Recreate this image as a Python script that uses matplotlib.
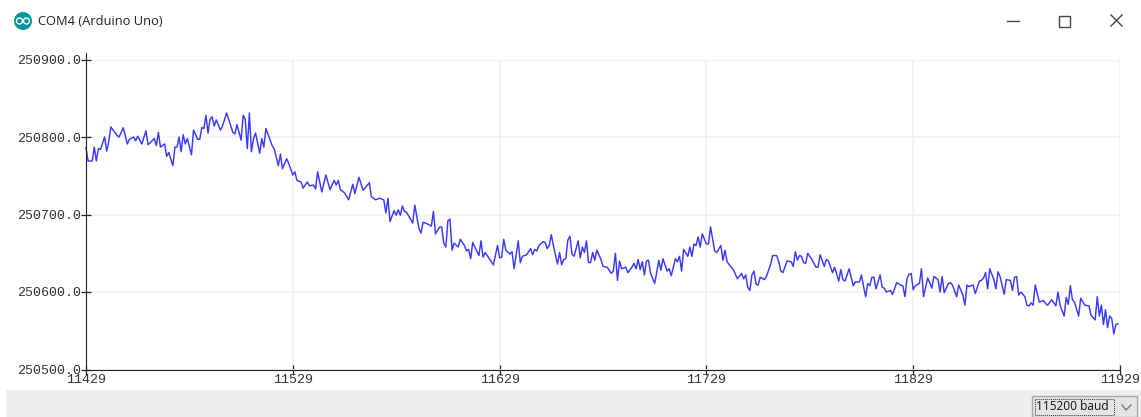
import matplotlib
matplotlib.use("Agg")
import matplotlib.pyplot as plt
from matplotlib.patches import Circle, Rectangle

# Data
start_sample = 11429
sample_offset = [
    0, 1, 3, 4, 5, 6, 7, 9, 10, 11, 12, 15, 16, 18, 20, 21, 23, 24, 25, 27, 29, 30, 33, 34, 35, 36,
    38, 39, 40, 42, 43, 44, 45, 46, 47, 48, 49, 51, 52, 54, 55, 56, 57, 58, 59, 60, 61, 62, 63, 65,
    66, 68, 71, 72, 73, 75, 76, 77, 78, 79, 80, 81, 82, 84, 85, 86, 87, 90, 91, 93, 94, 95, 97, 98,
    100, 101, 102, 104, 105, 107, 108, 110, 111, 112, 114, 116, 118, 120, 121, 122, 123, 125, 127,
    129, 130, 132, 134, 137, 138, 140,
    142, 144, 145, 146, 147, 149, 150, 151, 152, 153, 154, 155, 158, 159, 161, 162, 163, 165, 167,
    168, 169, 171, 172, 173, 174, 175, 176, 177, 178, 180, 181, 183, 184, 185, 186, 187, 190, 191,
    192, 193, 195, 197, 199, 200, 201, 202, 203, 205, 206, 207, 209, 210, 211, 213, 215, 216, 217,
    218, 219, 221, 222, 223, 224, 225, 226, 228, 229, 230, 231, 232, 233, 234, 235, 236, 238, 239,
    240, 241, 242, 243, 244, 245, 246, 247, 249, 250, 252, 254, 255, 256, 257, 258, 259, 261, 262,
    264, 265, 266, 267, 268, 269, 270, 271, 272, 273, 275, 277, 278, 279, 281, 282, 283, 285, 286,
    287, 288, 289, 291, 292, 293, 294, 295, 296, 297, 298, 300, 301, 302, 304, 305, 307, 308, 309,
    310, 312, 313, 315, 317, 318, 319, 320, 321, 322, 323, 324, 325, 326,
    328, 329, 331, 332, 334, 335, 336, 337, 339, 341, 342, 343, 344, 345, 346, 347, 348, 349, 351,
    353, 354, 355, 357, 358, 359, 361, 362, 364, 365, 366, 367, 369, 371, 372, 374, 375, 376, 377,
    378, 379, 380, 381, 382, 384, 385, 386, 387, 389, 390, 392, 394, 395, 396, 397, 398, 399, 400,
    401, 403, 404, 405, 407, 408, 409, 410, 412, 413, 414, 415, 417, 418, 419, 421, 422, 424, 425,
    426, 427, 429, 430, 432, 433, 434, 435, 436, 437, 439, 440, 441, 442, 444, 445, 447, 448, 449,
    450, 451, 452, 454, 455, 456, 457, 458, 459, 461, 463, 464, 465, 467, 469, 470, 471, 473, 474,
    475, 476, 477, 478, 480, 481, 483, 485, 486, 488, 489, 490, 491, 492, 493, 494, 495, 496, 497,
    498, 499,
]
readings = [
    786, 769, 769, 787, 769, 785, 784, 800, 782, 794, 813, 802, 800, 812, 791, 797, 800, 795, 801, 791, 808, 790, 798, 789, 806, 787,
    791, 775, 780, 763, 787, 787, 800, 781, 803, 791, 798, 777, 809, 797, 797, 812, 811, 828, 805, 823, 826, 814, 822, 809,
    814, 831, 806, 804, 816, 796, 828, 823, 785, 831, 781, 798, 805, 779, 798, 787, 811, 789, 785, 763, 778, 759, 772, 766,
    751, 755, 744, 742, 734, 742, 737, 738, 733, 755, 729, 751, 732, 744, 738, 744, 732, 728, 719,
    739, 727, 748, 731, 741, 723, 719,
    721, 719, 702, 721, 691, 705, 699, 706, 699, 711, 704, 703, 689, 712, 682, 676, 690, 688, 685,
    704, 675, 684, 684, 663, 658, 692, 694, 654, 663, 658, 668, 660, 653, 655, 643, 664, 647, 666,
    645, 651, 643, 635, 660, 644, 645, 668, 654, 649, 652, 630, 666, 638, 646, 648, 656, 648, 655,
    653, 660, 665, 664, 656, 660, 674, 660, 636, 651, 635, 642, 643, 667, 672, 649, 646, 666, 644,
    658, 651, 666, 638, 638, 651, 641, 654, 642, 633, 632, 624, 627, 650, 615, 640, 630, 632, 625,
    632, 637, 630, 642, 629, 639, 622, 640, 641, 624, 611, 641, 628, 643, 627, 630, 621, 643, 639,
    646, 627, 655, 646, 658, 646, 662, 660, 671, 658, 675, 662, 662, 684, 653, 651, 660, 641, 654,
    639, 632, 629, 617, 624, 617, 622, 606, 602, 622, 627, 610, 609, 619,
    616, 620, 635, 647, 647, 639, 627, 625, 640, 639, 633, 652, 641, 647, 646, 638, 637, 650, 642,
    632, 632, 648, 633, 642, 640, 625, 632, 614, 629, 616, 614, 630, 608, 613, 613, 622, 607, 594,
    611, 608, 619, 619, 604, 622, 606, 605, 600, 602, 597, 612, 609, 608, 594, 617, 623, 624, 603,
    608, 611, 630, 594, 618, 612, 605, 620, 616, 600, 620, 599, 611, 612, 609, 594, 609, 596, 583,
    609, 607, 609, 598, 614, 615, 618, 625, 604, 630, 616, 604, 626, 620, 597, 616, 615, 602, 619,
    620, 596, 600, 594, 583, 582, 586, 583, 609, 587, 589, 585, 583, 590, 582, 600, 583, 569, 593,
    584, 608, 590, 587, 569, 592, 583, 582, 570, 564, 594, 569, 583, 558, 577, 554, 569, 566, 546,
    558, 559,
]
xtick_values = [11429, 11529, 11629, 11729, 11829, 11929]
ytick_values = [250500, 250600, 250700, 250800, 250900]
window_title = "COM4 (Arduino Uno)"
baud_label = "115200 baud"

W, H = 1141, 417
xs = [start_sample + o for o in sample_offset]
ys = [250000 + r for r in readings]

fig = plt.figure(figsize=(W / 100, H / 100), dpi=100, facecolor="white")

# window chrome, drawn in pixel coordinates
chrome = fig.add_axes([0, 0, 1, 1])
chrome.set_xlim(0, W)
chrome.set_ylim(H, 0)
chrome.axis("off")
chrome.add_patch(Rectangle((6, 390), W - 6, 27, fc="#eeeeee", ec="none"))
chrome.add_patch(Circle((23, 21), 9, fc="#00979c", ec="none"))
chrome.add_patch(Circle((19.5, 21), 3, fc="none", ec="white", lw=1))
chrome.add_patch(Circle((26.5, 21), 3, fc="none", ec="white", lw=1))
chrome.text(38, 21, window_title, family="Open Sans", fontsize=9.3, color="#222222", va="center")
chrome.plot([1007, 1019], [21, 21], color="#444444", lw=1)
chrome.add_patch(Rectangle((1058.5, 15.5), 11, 11, fc="none", ec="#444444", lw=1))
chrome.plot([1111, 1122], [15, 26], color="#444444", lw=1)
chrome.plot([1111, 1122], [26, 15], color="#444444", lw=1)
chrome.add_patch(Rectangle((1032, 396), 105, 21, fc="#e4e4e4", ec="#aaaaaa", lw=1))
chrome.add_patch(Rectangle((1035, 399), 79, 16, fc="none", ec="#333333", lw=0.7, ls=(0, (1, 1))))
chrome.text(1036, 407, baud_label, family="Open Sans", fontsize=8.6, color="#111111", va="center")
chrome.plot([1122, 1126, 1131], [405, 410, 405], color="#777777", lw=1)

# plot area
ax = fig.add_axes([86 / W, 1 - 369.5 / H, (1120 - 86) / W, (369.5 - 59.5) / H])
ax.patch.set_alpha(0)
ax.plot(xs, ys, color="#3a3aff", lw=1.05, clip_on=False)
ax.set_xlim(xtick_values[0], xtick_values[-1])
ax.set_ylim(ytick_values[0], ytick_values[-1])
ax.set_xticks(xtick_values)
ax.set_yticks(ytick_values)
ax.set_yticklabels([f"{v:.1f}" for v in ytick_values])
ax.grid(True, color="#f1f1f1", lw=1.2)
ax.set_axisbelow(True)
ax.spines["top"].set_visible(False)
ax.spines["right"].set_visible(False)
ax.spines["left"].set_bounds(ytick_values[0], ytick_values[-1] + 8)
ax.spines["left"].set_color("#222222")
ax.spines["bottom"].set_color("#222222")
ax.tick_params(axis="both", direction="inout", length=7, width=0.9, color="#222222",
               labelcolor="#333333", labelsize=9.6, pad=0)
for label in ax.get_xticklabels() + ax.get_yticklabels():
    label.set_family("Liberation Mono")

fig.savefig("out.png", dpi=100)
